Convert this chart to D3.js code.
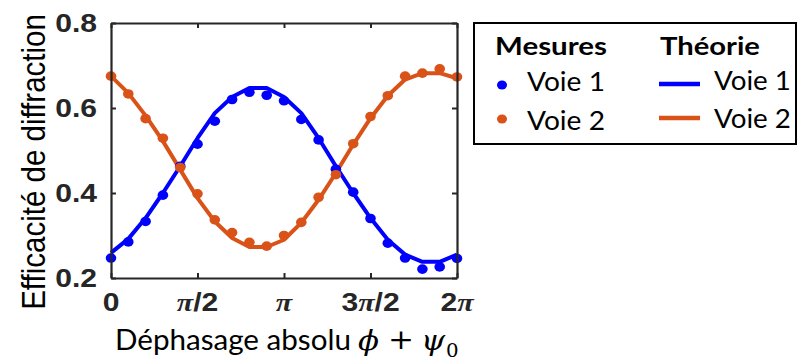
<!DOCTYPE html>
<html><head><meta charset="utf-8">
<script src="https://cdn.jsdelivr.net/npm/d3@7"></script>
<style>
body{margin:0;background:#fff;}
svg{display:block;}
</style></head>
<body>
<svg id="chart" width="798" height="363"></svg>
<script>
// phase values (in units of pi)
const phaseOverPi = [0,0.1,0.2,0.3,0.4,0.5,0.6,0.7,0.8,0.9,1.0,1.1,1.2,1.3,1.4,1.5,1.6,1.7,1.8,1.9,2.0];
const mesureVoie1 = [0.247,0.285,0.333,0.395,0.463,0.515,0.569,0.620,0.637,0.630,0.617,0.573,0.525,0.456,0.402,0.340,0.282,0.247,0.221,0.226,0.246];
const mesureVoie2 = [0.675,0.633,0.575,0.529,0.460,0.398,0.337,0.307,0.284,0.275,0.300,0.331,0.390,0.443,0.516,0.580,0.629,0.675,0.682,0.692,0.673];
const theorieVoie1 = [0.259,0.292,0.341,0.400,0.463,0.529,0.588,0.626,0.647,0.647,0.626,0.588,0.529,0.463,0.400,0.341,0.290,0.255,0.238,0.238,0.255];
const theorieVoie2 = [0.675,0.635,0.582,0.522,0.455,0.388,0.333,0.294,0.273,0.273,0.290,0.330,0.384,0.447,0.514,0.576,0.629,0.667,0.682,0.682,0.670];
const xTickValuesOverPi = [0,0.5,1,1.5,2];
const xTickLabels = [["0"],["π","/2"],["π"],["3","π","/2"],["2","π"]];
const yTicks = [0.2,0.4,0.6,0.8];
const colors = {v1:"#0000ff", v2:"#d95319"};

const svg = d3.select("#chart");
const PI = Math.PI;
const SX = 1.18; // horizontal stretch of the original figure
const x = d3.scaleLinear().domain([0, 2*PI]).range([111, 457]);
const y = d3.scaleLinear().domain([0.2, 0.8]).range([278, 23]);
const axisColor = "#262626";
const tickFont = "'Liberation Sans', Arial, sans-serif";
const calFont = "Lato, 'Open Sans', sans-serif";
const mathFont = "'DejaVu Serif', serif";

function addText(parent, px, py, sx, opts){
  const t = parent.append("text").attr("x",0).attr("y",0)
    .attr("transform",`translate(${px},${py}) scale(${sx},1)`);
  Object.entries(opts||{}).forEach(([k,v])=>t.attr(k,v));
  return t;
}
// fit text horizontally to a target width (font substitution)
function fitWidth(t, px, py, target){
  const w = t.node().getComputedTextLength();
  t.attr("transform",`translate(${px},${py}) scale(${target/w},1)`);
}

const xs = phaseOverPi.map(p => p*PI);

// lines
const line = d3.line().x((d,i)=>x(xs[i])).y(d=>y(d));
svg.append("path").datum(theorieVoie1).attr("d", line).attr("fill","none")
  .attr("stroke", colors.v1).attr("stroke-width",4).attr("stroke-linejoin","round");
svg.append("path").datum(theorieVoie2).attr("d", line).attr("fill","none")
  .attr("stroke", colors.v2).attr("stroke-width",4).attr("stroke-linejoin","round");

// dots
svg.append("g").selectAll("ellipse").data(mesureVoie1).join("ellipse")
  .attr("cx",(d,i)=>x(xs[i])).attr("cy",d=>y(d)).attr("rx",5.3).attr("ry",4.8).attr("fill",colors.v1);
svg.append("g").selectAll("ellipse").data(mesureVoie2).join("ellipse")
  .attr("cx",(d,i)=>x(xs[i])).attr("cy",d=>y(d)).attr("rx",5.3).attr("ry",4.8).attr("fill",colors.v2);

// axes
const xt = xTickValuesOverPi.map(v=>v*PI);
const gB = svg.append("g").attr("transform","translate(0,278)")
  .call(d3.axisBottom(x).tickValues(xt).tickSizeInner(-5).tickSizeOuter(0).tickFormat(""));
const gT = svg.append("g").attr("transform","translate(0,23)")
  .call(d3.axisTop(x).tickValues(xt).tickSizeInner(-5).tickSizeOuter(0).tickFormat(""));
const gL = svg.append("g").attr("transform","translate(111,0)")
  .call(d3.axisLeft(y).tickValues(yTicks).tickSizeInner(-5).tickSizeOuter(0).tickFormat(""));
const gR = svg.append("g").attr("transform","translate(457,0)")
  .call(d3.axisRight(y).tickValues(yTicks).tickSizeInner(-5).tickSizeOuter(0).tickFormat(""));
[gB,gT,gL,gR].forEach(g=>{
  g.select(".domain").attr("stroke",axisColor).attr("stroke-width",2.2);
  g.selectAll(".tick line").attr("stroke",axisColor).attr("stroke-width",2);
});

// y tick labels
const yl = svg.append("g");
yTicks.forEach(v=>{
  addText(yl, 97, y(v)+9, SX, {"text-anchor":"end","font-family":tickFont,"font-weight":"bold",
    "font-size":25.5,"fill":axisColor}).text(d3.format(".1f")(v));
});

// x tick labels with italic serif pi
const xl = svg.append("g");
xt.forEach((v,i)=>{
  const t = addText(xl, x(v), 311, SX, {"text-anchor":"middle","font-family":tickFont,
    "font-weight":"bold","font-size":25.5,"fill":axisColor});
  xTickLabels[i].forEach(part=>{
    const s = t.append("tspan").text(part);
    if(part==="π") s.attr("font-family","'Liberation Serif','Times New Roman',serif").attr("font-style","italic");
  });
});

// x axis title
const xLab = addText(svg, 115, 350, 1, {"font-family":calFont,"font-size":28,"fill":"#000"})
  .text("Déphasage absolu");
fitWidth(xLab, 115, 350, 236);
addText(svg, 358, 350, 1.1, {"font-family":mathFont,"font-style":"italic","font-size":28}).text("ϕ");
addText(svg, 388, 349, 1.15, {"font-family":mathFont,"font-size":27}).text("+");
addText(svg, 421, 350, 1.1, {"font-family":mathFont,"font-style":"italic","font-size":28}).text("ψ");
addText(svg, 446, 357, 1.1, {"font-family":mathFont,"font-size":18}).text("0");

// y axis title
svg.append("text").attr("transform",`translate(45,162) scale(1.12,1) rotate(-90)`)
  .attr("text-anchor","middle").attr("font-family",tickFont).attr("font-size",29.5)
  .attr("fill","#000").text("Efficacité de diffraction");

// legend
const lg = svg.append("g");
lg.append("rect").attr("x",474).attr("y",23).attr("width",322).attr("height",121)
  .attr("fill","#fff").attr("stroke","#000").attr("stroke-width",2);
const hdr1 = addText(lg, 495, 55, 1, {"font-family":calFont,"font-weight":"bold","font-size":25}).text("Mesures");
fitWidth(hdr1, 495, 55, 112);
const hdr2 = addText(lg, 660, 55, 1, {"font-family":calFont,"font-weight":"bold","font-size":25}).text("Théorie");
fitWidth(hdr2, 660, 55, 100);
const legItems = [{n:"Voie 1",c:colors.v1,yy:85,b1:91,b2:90},{n:"Voie 2",c:colors.v2,yy:119,b1:130,b2:128}];
legItems.forEach(it=>{
  lg.append("ellipse").attr("cx",502).attr("cy",it.yy).attr("rx",5).attr("ry",4.5).attr("fill",it.c);
  const a = addText(lg, 527, it.b1, 1, {"font-family":calFont,"font-size":26}).text(it.n);
  fitWidth(a, 527, it.b1, 78);
  lg.append("line").attr("x1",659).attr("x2",700).attr("y1",it.yy-1).attr("y2",it.yy-1)
    .attr("stroke",it.c).attr("stroke-width",4.5);
  const b = addText(lg, 714, it.b2, 1, {"font-family":calFont,"font-size":26}).text(it.n);
  fitWidth(b, 714, it.b2, 77);
});
</script>
</body></html>
